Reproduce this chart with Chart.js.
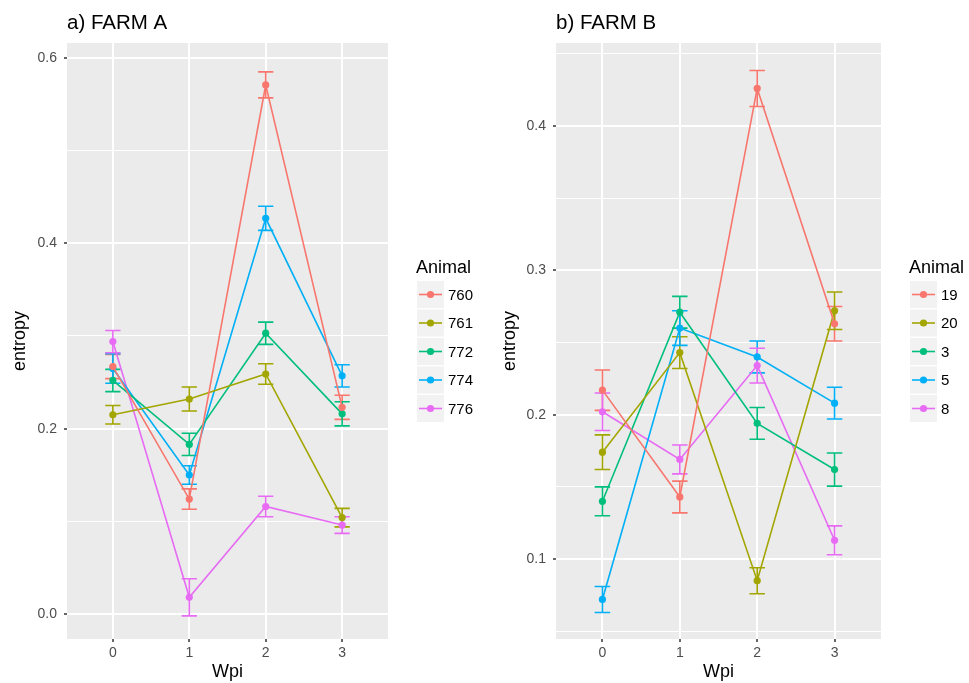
<!DOCTYPE html>
<html><head><meta charset="utf-8">
<script src="https://cdn.jsdelivr.net/npm/chart.js@4/dist/chart.umd.min.js"></script>
<style>
html,body{margin:0;padding:0;background:#fff;width:969px;height:683px;overflow:hidden}
canvas{position:absolute;top:0}
#ca{left:0}
#cb{left:484px}
</style></head><body>
<canvas id="ca" width="484" height="683"></canvas>
<canvas id="cb" width="485" height="683"></canvas>
<script>
// ---------- data ----------
const wpi = [0, 1, 2, 3];
const hueColors = ['#F8766D', '#A3A500', '#00BF7D', '#00B0F6', '#E76BF3'];

// Farm A
const animalsA = ['760', '761', '772', '774', '776'];
const a760 = [0.267, 0.124, 0.571, 0.223];
const a761 = [0.215, 0.232, 0.259, 0.104];
const a772 = [0.252, 0.183, 0.303, 0.216];
const a774 = [0.265, 0.150, 0.427, 0.257];
const a776 = [0.294, 0.018, 0.116, 0.096];
const a760err = [0.013, 0.011, 0.014, 0.013];
const a761err = [0.010, 0.013, 0.011, 0.010];
const a772err = [0.012, 0.012, 0.012, 0.013];
const a774err = [0.016, 0.010, 0.013, 0.012];
const a776err = [0.012, 0.020, 0.011, 0.009];
const yMajorA = [0.0, 0.2, 0.4, 0.6];
const yMinorA = [0.1, 0.3, 0.5];

// Farm B
const animalsB = ['19', '20', '3', '5', '8'];
const b19 = [0.217, 0.143, 0.426, 0.263];
const b20 = [0.174, 0.243, 0.085, 0.272];
const b3  = [0.140, 0.271, 0.194, 0.162];
const b5  = [0.072, 0.260, 0.240, 0.208];
const b8  = [0.202, 0.169, 0.234, 0.113];
const b19err = [0.014, 0.011, 0.0125, 0.012];
const b20err = [0.012, 0.011, 0.009, 0.013];
const b3err  = [0.010, 0.011, 0.011, 0.0115];
const b5err  = [0.009, 0.012, 0.011, 0.011];
const b8err  = [0.013, 0.010, 0.012, 0.010];
const yMajorB = [0.1, 0.2, 0.3, 0.4];
const yMinorB = [0.05, 0.15, 0.25, 0.35, 0.45];

// ---------- helpers ----------
const FONT = "'Liberation Sans', Arial, Helvetica, sans-serif";

function makeDatasets(names, series, errs) {
  return names.map((n, i) => ({
    label: n,
    data: wpi.map((x, j) => ({ x: x, y: series[i][j] })),
    errs: errs[i],
    borderColor: hueColors[i],
    backgroundColor: hueColors[i],
    pointBackgroundColor: hueColors[i],
    pointBorderWidth: 0,
    pointRadius: 3.6,
    borderWidth: 1.6,
    tension: 0,
    fill: false
  }));
}

const ggPlugin = {
  id: 'gg',
  beforeDraw(chart) {
    const a = chart.chartArea, c = chart.ctx;
    c.save();
    c.fillStyle = '#EBEBEB';
    c.fillRect(a.left, a.top, a.right - a.left, a.bottom - a.top);
    c.restore();
  },
  beforeDatasetsDraw(chart) {
    const c = chart.ctx, xs = chart.scales.x, ys = chart.scales.y;
    c.save();
    c.lineWidth = 1.6;
    chart.data.datasets.forEach(ds => {
      c.strokeStyle = ds.borderColor;
      ds.data.forEach((p, j) => {
        const e = ds.errs[j];
        const px = xs.getPixelForValue(p.x);
        const xl = xs.getPixelForValue(p.x - 0.1), xr = xs.getPixelForValue(p.x + 0.1);
        const yt = ys.getPixelForValue(p.y + e), yb = ys.getPixelForValue(p.y - e);
        c.beginPath();
        c.moveTo(px, yt); c.lineTo(px, yb);
        c.moveTo(xl, yt); c.lineTo(xr, yt);
        c.moveTo(xl, yb); c.lineTo(xr, yb);
        c.stroke();
      });
    });
    c.restore();
  },
  afterDraw(chart) {
    const o = chart.options.plugins.gg;
    const a = chart.chartArea, c = chart.ctx;
    c.save();
    // panel title
    c.fillStyle = '#000';
    c.font = '20.5px ' + FONT;
    c.textAlign = 'left';
    c.textBaseline = 'alphabetic';
    c.fillText(o.title, a.left, 29);
    // legend
    const kx = a.right + 29;
    c.font = '18px ' + FONT;
    c.fillText('Animal', kx - 1, 273);
    chart.data.datasets.forEach((ds, i) => {
      const ky = 281 + i * 28.5;
      c.fillStyle = '#F2F2F2';
      c.fillRect(kx, ky, 27, 27);
      const cy = ky + 13.5;
      c.strokeStyle = ds.borderColor;
      c.lineWidth = 1.6;
      c.beginPath(); c.moveTo(kx + 2, cy); c.lineTo(kx + 25, cy); c.stroke();
      c.fillStyle = ds.borderColor;
      c.beginPath(); c.arc(kx + 13.5, cy, 3.6, 0, Math.PI * 2); c.fill();
      c.fillStyle = '#000';
      c.font = '15px ' + FONT;
      c.textBaseline = 'middle';
      c.fillText(ds.label, kx + 31, cy + 1);
      c.textBaseline = 'alphabetic';
    });
    c.restore();
  }
};

function makeChart(id, title, names, series, errs, yMin, yMax, yMajor, yMinor, yWidth, yTitlePad, padRight, fmt) {
  const allY = yMajor.concat(yMinor).sort((p, q) => p - q);
  const isMajor = v => yMajor.some(m => Math.abs(m - v) < 1e-9);
  return new Chart(document.getElementById(id), {
    type: 'line',
    data: { datasets: makeDatasets(names, series, errs) },
    plugins: [ggPlugin],
    options: {
      responsive: false,
      animation: false,
      events: [],
      layout: { padding: { left: 0, top: 43, right: padRight, bottom: 0 } },
      plugins: {
        legend: { display: false },
        tooltip: { enabled: false },
        gg: { title: title }
      },
      scales: {
        x: {
          type: 'linear',
          min: -0.6, max: 3.6,
          afterFit(s) { s.height = 44; },
          afterBuildTicks(s) { s.ticks = wpi.map(v => ({ value: v })); },
          border: { display: false },
          grid: { color: '#FFFFFF', lineWidth: 2, drawTicks: true, tickLength: 3, tickColor: '#333333', tickWidth: 1.5 },
          ticks: { color: '#4D4D4D', font: { family: FONT, size: 14 }, padding: 3, maxRotation: 0, callback: v => String(v) },
          title: { display: true, text: 'Wpi', color: '#000', font: { family: FONT, size: 18 }, padding: { top: 1, bottom: 0 } }
        },
        y: {
          type: 'linear',
          min: yMin, max: yMax,
          afterFit(s) { s.width = yWidth; },
          afterBuildTicks(s) { s.ticks = allY.map(v => ({ value: v })); },
          border: { display: false },
          grid: {
            color: '#FFFFFF',
            lineWidth: ctx => (ctx.tick && isMajor(ctx.tick.value)) ? 2 : 1,
            drawTicks: true, tickLength: 3, tickWidth: 1.5,
            tickColor: ctx => (ctx.tick && isMajor(ctx.tick.value)) ? '#333333' : 'rgba(0,0,0,0)'
          },
          ticks: { color: '#4D4D4D', font: { family: FONT, size: 14 }, padding: 7, autoSkip: false,
                   callback: v => isMajor(v) ? v.toFixed(fmt) : '' },
          title: { display: true, text: 'entropy', color: '#000', font: { family: FONT, size: 18 }, padding: { top: yTitlePad, bottom: 0 } }
        }
      }
    }
  });
}

makeChart('ca', 'a) FARM A', animalsA,
  [a760, a761, a772, a774, a776], [a760err, a761err, a772err, a774err, a776err],
  -0.027, 0.6162, yMajorA, yMinorA, 67, 9, 96, 1);
makeChart('cb', 'b) FARM B', animalsB,
  [b19, b20, b3, b5, b8], [b19err, b20err, b3err, b5err, b8err],
  0.0446, 0.4575, yMajorB, yMinorB, 72, 15, 88, 1);
</script>
</body></html>
